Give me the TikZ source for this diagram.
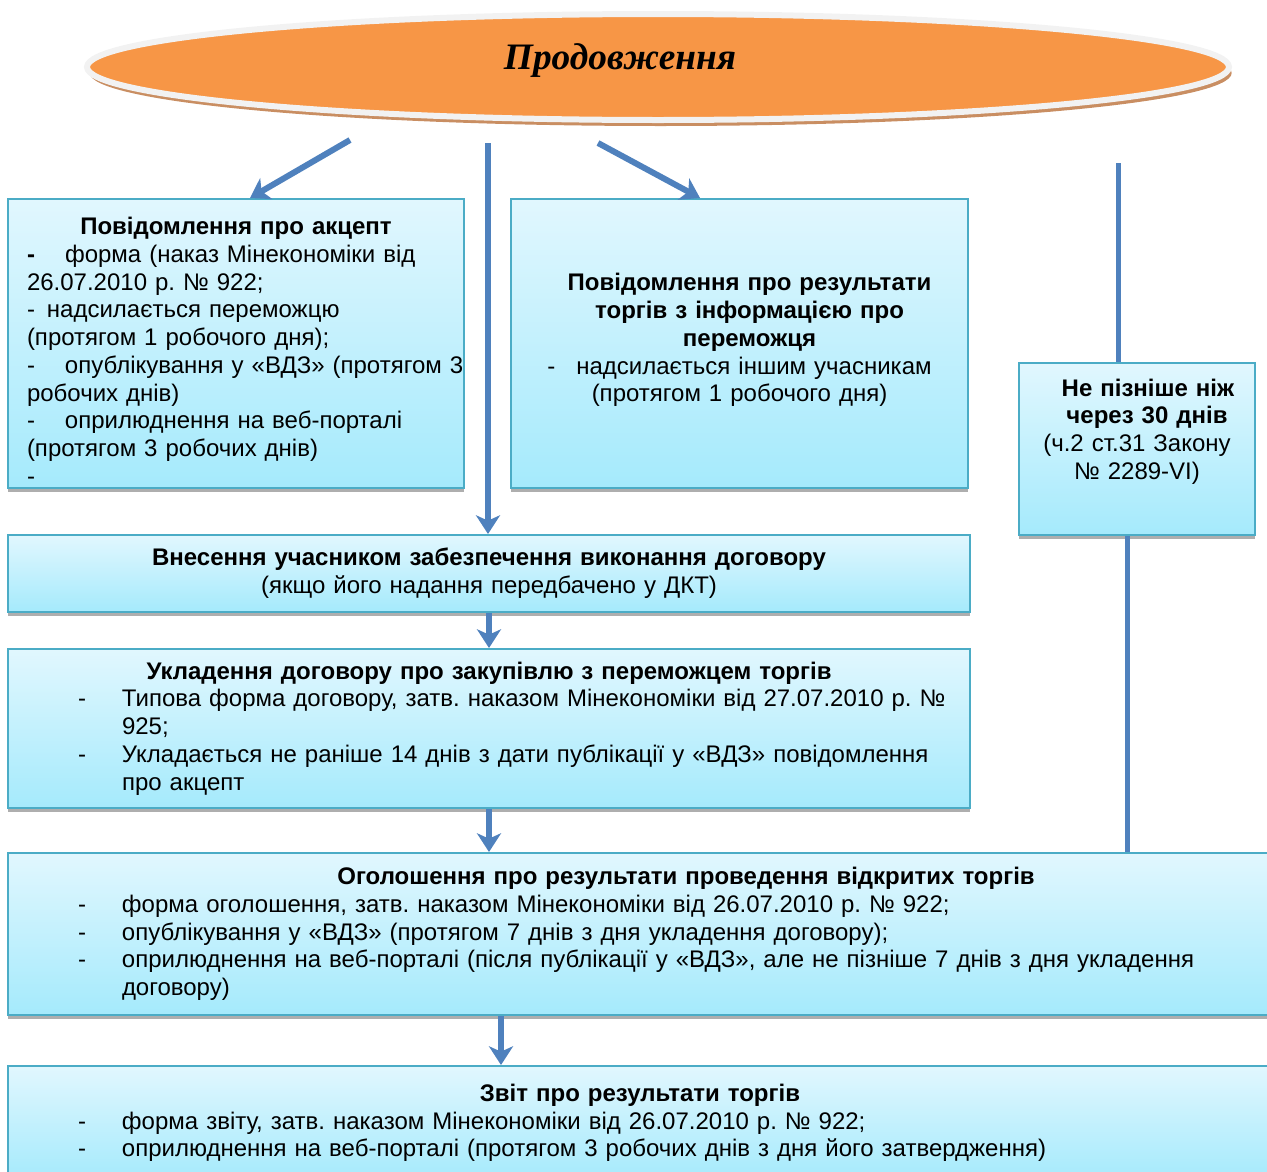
\documentclass[tikz,border=0pt]{standalone}
\usepackage{fontspec}
\setmainfont{Liberation Sans}
\newfontfamily\serifttl{Liberation Serif}
\usetikzlibrary{shapes.geometric,shadows,arrows.meta}
\frenchspacing
\newdimen\pxu \pxu=0.75pt
\definecolor{orng}{HTML}{F79646}
\definecolor{rimgray}{HTML}{F2F2F2}
\definecolor{rimbrown}{HTML}{C98E62}
\definecolor{boxedge}{HTML}{4BACC6}
\definecolor{boxtop}{HTML}{E1F7FE}
\definecolor{boxbot}{HTML}{A5EAFC}
\definecolor{arrblue}{HTML}{4F81BD}
\newcommand\boxfont{\fontsize{18pt}{20.8pt}\selectfont}
\newcommand\ttlfont{\serifttl\bfseries\itshape\fontsize{28pt}{30pt}\selectfont}
\newcommand\dsh{\makebox[44\pxu][l]{-}}
\tikzset{
  box/.style={draw=boxedge, line width=2\pxu, top color=boxtop, bottom color=boxbot,
    inner ysep=0pt, font=\boxfont,
    drop shadow={shadow xshift=0pt, shadow yshift=-3pt, fill=black!45, opacity=.7}},
  arr/.style={draw=arrblue, line width=6\pxu, -{Stealth[length=14pt,width=18pt,inset=4pt]}},
  link/.style={draw=arrblue, line width=5\pxu},
}
\begin{document}
\begin{tikzpicture}[x=0.75pt,y=-0.75pt]
	\clip (0,0) rectangle (1267,1171);
	% title
	\node[ellipse, minimum width=1142\pxu, minimum height=106\pxu, fill=orng, draw=rimgray,
	  line width=6\pxu, drop shadow={shadow xshift=2pt, shadow yshift=-4.5pt, fill=rimbrown, opacity=1}]
	  (ttl) at (658,67) {};
	\node[font=\ttlfont] (ttltxt) at (620,61) {Продовження};
	% boxes
	\node[box, minimum width=456\pxu, minimum height=289\pxu, text width=418\pxu, inner xsep=19\pxu, align=left]
	  (A) at (236,343.5) {\centerline{\rule{0pt}{24pt}\bfseries Повідомлення про акцепт}
	  \makebox[38\pxu][l]{\textbf{-}}форма (наказ Мінекономіки від\\
	  26.07.2010 р. № 922;\\
	  \makebox[20\pxu][l]{-}надсилається переможцю\\
	  (протягом 1 робочого дня);\\
	  \mbox{\makebox[38\pxu][l]{-}опублікування у «ВДЗ» (протягом 3}\\
	  робочих днів)\\
	  \makebox[38\pxu][l]{-}оприлюднення на веб-порталі\\
	  (протягом 3 робочих днів)\\
	  -};
	\node[box, minimum width=457\pxu, minimum height=289\pxu, text width=437\pxu, inner xsep=10\pxu, align=center]
	  (B) at (739.5,343.5) {\hspace*{20\pxu}\textbf{Повідомлення про результати}\\
	  \hspace*{20\pxu}\textbf{торгів з інформацією про}\\
	  \hspace*{20\pxu}\textbf{переможця}\\
	  \makebox[29\pxu][l]{-}надсилається іншим учасникам\\
	  (протягом 1 робочого дня)\\[-12pt] \mbox{}};
	\node[box, minimum width=236\pxu, minimum height=172\pxu, text width=226\pxu, inner xsep=5\pxu, align=center]
	  (C) at (1137,449) {\hspace*{22\pxu}\textbf{Не пізніше ніж}\\
	  \hspace*{20\pxu}\textbf{через 30 днів}\\
	  (ч.2 ст.31 Закону\\
	  № 2289-VI)\\[9pt] \mbox{}};
	\node[box, minimum width=962\pxu, minimum height=77\pxu, text width=942\pxu, inner xsep=10\pxu, align=center]
	  (D) at (489,573.5) {\textbf{Внесення учасником забезпечення виконання договору}\\
	  (якщо його надання передбачено у ДКТ)};
	\node[box, minimum width=962\pxu, minimum height=159\pxu, text width=822\pxu, inner xsep=70\pxu, align=left]
	  (E) at (489,728.5) {\centerline{\bfseries Укладення договору про закупівлю з переможцем торгів}
	  \mbox{\dsh Типова форма договору, затв. наказом Мінекономіки від 27.07.2010 р. №}\\
	  \hspace*{44\pxu}925;\\
	  \mbox{\dsh Укладається не раніше 14 днів з дати публікації у «ВДЗ» повідомлення}\\
	  \hspace*{44\pxu}про акцепт};
	\node[box, minimum width=1356\pxu, minimum height=162\pxu, text width=1216\pxu, inner xsep=70\pxu, align=left]
	  (G) at (686,934) {\centerline{\bfseries Оголошення про результати проведення відкритих торгів}
	  \dsh форма оголошення, затв. наказом Мінекономіки від 26.07.2010 р. № 922;\\
	  \dsh опублікування у «ВДЗ» (протягом 7 днів з дня укладення договору);\\
	  \mbox{\dsh оприлюднення на веб-порталі (після публікації у «ВДЗ», але не пізніше 7 днів з дня укладення}\\
	  \hspace*{44\pxu}договору)};
	\node[box, minimum width=1264\pxu, minimum height=114\pxu, text width=1124\pxu, inner xsep=70\pxu, align=left]
	  (H) at (640,1123) {\centerline{\bfseries Звіт про результати торгів}
	  \dsh форма звіту, затв. наказом Мінекономіки від 26.07.2010 р. № 922;\\
	  \dsh оприлюднення на веб-порталі (протягом 3 робочих днів з дня його затвердження)};
	% connectors
	\coordinate (s1) at (350,140);
	\coordinate (s2) at (488,143);
	\coordinate (s3) at (598,143);
	\coordinate (s4) at (1118,163);
	\coordinate (c5) at ([xshift=-7.5pt]C.south);
	\coordinate (g8) at ([xshift=-138.75pt]G.south);
	\draw[arr] (s1) -- ([xshift=10.5pt]A.north);
	\draw[arr] (s2) -- (s2 |- D.north);
	\draw[arr] (s3) -- ([xshift=-29.6pt]B.north);
	\draw[link] (s4) -- (s4 |- C.north);
	\draw[link] (c5) -- (c5 |- G.north);
	\draw[arr] (D.south) -- (E.north);
	\draw[arr] (E.south) -- (E.south |- G.north);
	\draw[arr] (g8) -- (g8 |- H.north);
\end{tikzpicture}
\end{document}
